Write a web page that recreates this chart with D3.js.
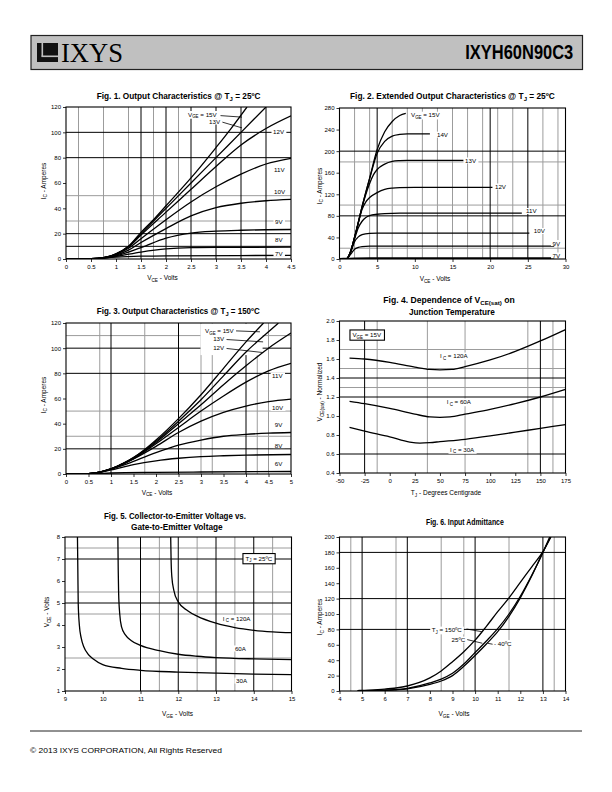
<!DOCTYPE html>
<html><head><meta charset="utf-8">
<script src="https://cdn.jsdelivr.net/npm/d3@7"></script>
<style>
body{margin:0;background:#fff}
svg{display:block}
text{font-family:"Liberation Sans",Arial,Helvetica,sans-serif;fill:#000}
</style>
</head><body>
<svg id="page" width="612" height="792"></svg>
<script>
// ---------------- DATA ----------------
// Fig 1: Output characteristics @ Tj=25C  [VCE (V), IC (A)]
const f1_15 = [[0,0],[0.5,0.2],[0.75,1],[1,4],[1.25,10],[1.5,21],[1.75,31],[2,42],[2.5,64],[3,88],[3.3,103],[3.62,120]];
const f1_13 = [[0,0],[0.5,0.2],[0.75,1],[1,4],[1.25,10],[1.5,20],[1.75,30],[2,40],[2.5,60],[3,80],[3.5,100],[4,120]];
const f1_12 = [[0,0],[0.5,0.2],[0.75,1],[1,3.8],[1.25,9.5],[1.5,19],[2,37],[2.5,55],[3,73],[3.5,90],[4,103],[4.5,113]];
const f1_11 = [[0,0],[0.5,0.2],[0.75,1],[1,3.5],[1.25,8.5],[1.5,16],[2,31],[2.5,45],[3,57],[3.5,67],[4,75],[4.5,79.5]];
const f1_10 = [[0,0],[0.5,0.2],[0.75,0.9],[1,3],[1.25,7],[1.5,13],[2,24],[2.5,34],[3,40.5],[3.5,44],[4,46],[4.5,47]];
const f1_9  = [[0,0],[0.5,0.2],[0.75,0.8],[1,2.5],[1.5,9],[2,16.5],[2.5,20.5],[3,22],[3.5,22.7],[4,23.1],[4.5,23.3]];
const f1_8  = [[0,0],[0.5,0.2],[0.75,0.7],[1,2],[1.5,5.5],[2,8],[2.5,9],[3,9.2],[4.5,9.3]];
const f1_7  = [[0,0],[0.5,0.2],[1,1.5],[1.5,2.2],[2,2.5],[4.5,2.8]];
const f1_xTicks = [0,0.5,1,1.5,2,2.5,3,3.5,4,4.5];
const f1_yTicks = [0,20,40,60,80,100,120];

// Fig 2: Extended output characteristics @ 25C
const f2_15 = [[0,0],[0.8,0.3],[1,1],[1.5,15],[2,40],[2.5,68],[3,97],[4,150],[5,203],[6,236],[7,255],[8,266],[8.8,270]];
const f2_14 = [[0,0],[0.8,0.3],[1,1],[1.5,15],[2,40],[2.5,68],[3,97],[4,149],[5,196],[6,218],[7,228],[8,231],[9,232],[12,232]];
const f2_13 = [[0,0],[0.8,0.3],[1,1],[1.5,15],[2,40],[2.5,68],[3,96],[4,140],[4.5,156],[5,166],[6,176],[7,181],[8,182.5],[9,183],[16.5,183]];
const f2_12 = [[0,0],[0.8,0.3],[1,1],[1.5,15],[2,40],[2.5,67],[3,92],[3.5,106],[4,114],[5,123],[6,129],[7,131.5],[8,132.5],[10,133],[20.3,133]];
const f2_11 = [[0,0],[0.8,0.3],[1,1],[1.5,14],[2,37],[2.5,58],[3,70],[3.5,77],[4,80.5],[5,83],[6,84.3],[8,85],[24.2,85]];
const f2_10 = [[0,0],[0.8,0.3],[1,1],[1.5,13],[2,32],[2.5,41],[3,45],[4,47.5],[5,48],[25.2,48]];
const f2_9  = [[0,0],[0.8,0.3],[1,0.8],[1.5,9],[2,18],[2.5,21.5],[3,23],[4,24],[28.5,24]];
const f2_7  = [[0,0],[1,0.5],[2,1],[4,1.2],[28.5,1.2]];
const f2_xTicks = [0,5,10,15,20,25,30];
const f2_yTicks = [0,40,80,120,160,200,240,280];

// Fig 3: Output characteristics @ Tj=150C
const f3_15 = [[0,0],[0.5,0.3],[0.75,1.5],[1,4],[1.25,8],[1.5,13],[1.75,19.5],[2,27],[2.5,44],[3,63],[3.5,84],[4,105],[4.39,120]];
const f3_13 = [[0,0],[0.5,0.3],[0.75,1.5],[1,4],[1.25,8],[1.5,13],[1.75,19],[2,26],[2.5,42],[3,59],[3.5,78],[4,97],[4.5,113],[4.72,120]];
const f3_12 = [[0,0],[0.5,0.3],[0.75,1.5],[1,4],[1.25,8],[1.5,12.5],[1.75,18.5],[2,25],[2.5,40],[3,55],[3.5,71],[4,86],[4.5,100],[5,112]];
const f3_11 = [[0,0],[0.5,0.3],[0.75,1.5],[1,4],[1.5,12],[2,24],[2.5,37],[3,50],[3.5,62],[4,73],[4.5,82],[5,88]];
const f3_10 = [[0,0],[0.5,0.3],[0.75,1.5],[1,4],[1.5,12],[2,22],[2.5,33],[3,42],[3.5,49],[4,54],[4.5,57.5],[5,59.5]];
const f3_9  = [[0,0],[0.5,0.3],[0.75,1.5],[1,3.8],[1.5,10],[2,17],[2.5,23],[3,27],[3.5,30],[4,31.5],[4.5,32.5],[5,33]];
const f3_8  = [[0,0],[0.5,0.3],[0.75,1.3],[1,3.2],[1.5,7.5],[2,10.5],[2.5,12.5],[3,13.8],[3.5,14.5],[4,15],[5,15.5]];
const f3_6  = [[0,0],[0.5,0.2],[1,0.8],[2,1.3],[3,1.6],[5,2]];
const f3_xTicks = [0,0.5,1,1.5,2,2.5,3,3.5,4,4.5,5];
const f3_yTicks = [0,20,40,60,80,100,120];

// Fig 4: VCE(sat) normalized vs Tj
const f4_120 = [[-40,1.61],[-25,1.6],[0,1.565],[25,1.515],[40,1.49],[50,1.485],[62,1.49],[75,1.52],[100,1.59],[125,1.68],[150,1.79],[175,1.91]];
const f4_60  = [[-40,1.155],[-25,1.13],[0,1.08],[25,1.02],[40,0.99],[50,0.985],[60,0.99],[75,1.02],[100,1.07],[125,1.13],[150,1.2],[175,1.28]];
const f4_30  = [[-40,0.88],[-25,0.84],[0,0.78],[20,0.725],[30,0.715],[40,0.72],[50,0.73],[75,0.755],[100,0.79],[125,0.83],[150,0.87],[175,0.91]];
const f4_xTicks = [-50,-25,0,25,50,75,100,125,150,175];
const f4_yTicks = [0.4,0.6,0.8,1.0,1.2,1.4,1.6,1.8,2.0];

// Fig 5: VCE vs VGE @ 25C
const f5_30  = [[9.33,8],[9.34,6.5],[9.35,5],[9.38,4],[9.43,3.4],[9.5,3],[9.6,2.7],[9.75,2.45],[10,2.2],[10.5,2.03],[11,1.94],[12,1.86],[13,1.81],[14,1.77],[15,1.74]];
const f5_60  = [[10.4,8],[10.41,6.5],[10.42,5.5],[10.45,4.5],[10.5,3.9],[10.6,3.55],[10.75,3.3],[11,3.07],[11.5,2.83],[12,2.67],[12.5,2.58],[13,2.52],[14,2.46],[15,2.43]];
const f5_120 = [[11.8,8],[11.81,7],[11.83,6.2],[11.88,5.6],[12,5.05],[12.25,4.65],[12.5,4.4],[13,4.08],[13.5,3.88],[14,3.76],[14.5,3.69],[15,3.65]];
const f5_xTicks = [9,10,11,12,13,14,15];
const f5_yTicks = [1,2,3,4,5,6,7,8];

// Fig 6: Input admittance
const f6_150 = [[4.8,0.5],[5,0.8],[6,2.5],[7,6.5],[8,17],[8.5,26],[9,38],[9.5,51],[10,66],[10.5,84],[11,103],[11.5,121],[12,141],[12.5,161],[13,181],[13.35,200]];
const f6_25  = [[4.8,0.3],[5,0.4],[6,1.2],[7,3.5],[8,10.5],[8.5,15.5],[9,23],[9.5,35],[10,50],[10.5,65],[11,81],[11.5,100],[12,123],[12.5,150],[13,180],[13.3,200]];
const f6_m40 = [[5,0.2],[6,0.8],[7,2.8],[8,8.5],[8.5,13],[9,20],[9.5,32],[10,46],[10.5,61],[11,77],[11.5,97],[12,121],[12.5,149],[13,180],[13.35,200]];
const f6_xTicks = [4,5,6,7,8,9,10,11,12,13,14];
const f6_yTicks = [0,20,40,60,80,100,120,140,160,180,200];

// Gridlines (grey / black) per figure
const f1_gridGreyX = [0.25,0.75,1.25,1.75,2.25], f1_gridBlackX = [1.5,2,2.5,3,3.5,4];
const f1_gridGreyY = [30,50], f1_gridBlackY = [10,20,80,100];
const f2_gridGreyX = [2,4,7,9,11,13,15,17,19,21,23,27,29], f2_gridBlackX = [5,20,25];
const f2_gridGreyY = [20,100,180], f2_gridBlackY = [80,200];
const f3_gridGreyX = [0.75,1.75,3,3.25,4.25,4.5], f3_gridBlackX = [1,2.5,4];
const f3_gridGreyY = [30,50,110], f3_gridBlackY = [20,80,100];
const f4_gridGreyX = [-12.5,37.5,75,137.5,162.5], f4_gridBlackX = [-25,150];
const f4_gridGreyY = [1.3,1.5,1.7], f4_gridBlackY = [0.6,1.2,1.4];
const f5_gridGreyX = [11.5,12.5,13.5,14.5], f5_gridBlackX = [11,12,13,14];
const f5_gridGreyY = [2.5,4.5,5.5,7.5], f5_gridBlackY = [5,7];
const f6_gridGreyX = [4.5,6.5,8.5,9.5,11.5,13.5], f6_gridBlackX = [5,7,10,13];
const f6_gridGreyY = [], f6_gridBlackY = [80,120,180];

// ---------------- DRAWING ----------------
const svg = d3.select('#page');
const defs = svg.append('defs');

function rich(t, parts, fs){
  let shift = 0; const sd = fs*0.28;
  parts.forEach(p=>{
    const ts = t.append('tspan');
    if(Array.isArray(p)){ ts.attr('font-size', fs*0.72).attr('dy', sd - shift).text(p[0]); shift = sd; }
    else { ts.attr('dy', -shift).text(p); shift = 0; }
  });
  return t;
}
// condensed text: draw at natural width, then scale horizontally to target width
function condensed(parent, cx, y, w, parts, fs, weight){
  const t = parent.append('text').attr('font-size', fs).attr('font-weight', weight || 'bold');
  rich(t, parts, fs);
  const w0 = t.node().getBBox().width;
  const s = Math.min(1, w / w0);
  t.attr('transform', `translate(${cx - w0*s/2},${y}) scale(${s},1)`);
  return t;
}

function chart(cfg){
  const g = svg.append('g');
  const x = d3.scaleLinear().domain(cfg.xd).range([cfg.l, cfg.r]);
  const y = d3.scaleLinear().domain(cfg.yd).range([cfg.b, cfg.t]);
  const grid = g.append('g');
  const vline = (arr, col, sw) => grid.append('g').selectAll('line').data(arr).join('line')
     .attr('x1', d=>x(d)).attr('x2', d=>x(d)).attr('y1', cfg.t).attr('y2', cfg.b)
     .attr('stroke', col).attr('stroke-width', sw);
  const hline = (arr, col, sw) => grid.append('g').selectAll('line').data(arr).join('line')
     .attr('y1', d=>y(d)).attr('y2', d=>y(d)).attr('x1', cfg.l).attr('x2', cfg.r)
     .attr('stroke', col).attr('stroke-width', sw);
  vline(cfg.gx, '#9c9c9c', 1); hline(cfg.gy, '#9c9c9c', 1);
  vline(cfg.bx, '#000', 1); hline(cfg.by, '#000', 1);
  const id = 'clip' + cfg.id;
  defs.append('clipPath').attr('id', id).append('rect')
     .attr('x', cfg.l).attr('y', cfg.t).attr('width', cfg.r-cfg.l).attr('height', cfg.b-cfg.t);
  const over = g.append('g');
  const curves = g.append('g').attr('clip-path', `url(#${id})`);
  const ann = g.append('g');
  g.append('rect').attr('x', cfg.l).attr('y', cfg.t).attr('width', cfg.r-cfg.l).attr('height', cfg.b-cfg.t)
    .attr('fill','none').attr('stroke','#000').attr('stroke-width',1.1);
  const ax = g.append('g').attr('transform', `translate(0,${cfg.b})`)
    .call(d3.axisBottom(x).tickValues(cfg.xt).tickSize(3).tickPadding(3).tickFormat(cfg.xf || (d=>String(d))));
  const ay = g.append('g').attr('transform', `translate(${cfg.l},0)`)
    .call(d3.axisLeft(y).tickValues(cfg.yt).tickSize(3).tickPadding(2).tickFormat(cfg.yf || (d=>String(d))));
  [ax, ay].forEach(a=>{
    a.select('.domain').remove();
    a.attr('font-size', null).attr('font-family', null);
    a.selectAll('text').attr('font-size', 6).attr('fill','#000');
    a.selectAll('line').attr('stroke','#000').attr('stroke-width',0.8);
  });
  rich(g.append('text').attr('x', cfg.xl[0]).attr('y', cfg.xl[1]).attr('text-anchor','middle').attr('font-size',6.5), cfg.xlab, 6.5);
  rich(g.append('text').attr('transform', `translate(${cfg.yl[0]},${cfg.yl[1]}) rotate(-90)`).attr('text-anchor','middle').attr('font-size',6.5), cfg.ylab, 6.5);
  cfg.title.forEach(tl => condensed(g, tl.cx, tl.y, tl.w, tl.parts, 8.6));
  return {g, x, y, curves, ann, over, cfg};
}

const line = (c) => d3.line().x(d=>c.x(d[0])).y(d=>c.y(d[1])).curve(d3.curveMonotoneX);
function draw(c, series, sw){
  c.curves.selectAll(null).data(series).join('path')
    .attr('d', d=>line(c)(d)).attr('fill','none').attr('stroke','#000')
    .attr('stroke-width', sw || 1.3).attr('stroke-linejoin','round');
}
function lab(c, xv, yv, parts, opt){
  opt = opt || {};
  const fs = opt.fs || 6.2;
  const t = c.ann.append('text').attr('x', c.x(xv)).attr('y', c.y(yv)).attr('font-size', fs);
  rich(t, parts, fs);
  const b = t.node().getBBox();
  if(opt.box){
    c.ann.insert('rect', ()=>t.node()).attr('x', b.x-2.5).attr('y', b.y-1).attr('width', b.width+5).attr('height', b.height+1.5)
      .attr('fill','#fff').attr('stroke','#000').attr('stroke-width',1.1);
  } else if(opt.bg !== false){
    c.ann.insert('rect', ()=>t.node()).attr('x', b.x-1.5).attr('y', b.y+0.5).attr('width', b.width+3).attr('height', b.height-1)
      .attr('fill','#fff');
  }
}
function leader(c, a, b){
  c.ann.append('line').attr('x1', c.x(a[0])).attr('y1', c.y(a[1])).attr('x2', c.x(b[0])).attr('y2', c.y(b[1]))
    .attr('stroke','#000').attr('stroke-width',0.8);
}

const VCE = ['V',['CE'],' - Volts'];
const VGE = ['V',['GE'],' - Volts'];
const ICA = ['I',['C'],' - Amperes'];

// ---- Header ----
svg.append('rect').attr('x',31).attr('y',35.5).attr('width',551.5).attr('height',34)
  .attr('fill','#c0c0c0').attr('stroke','#222').attr('stroke-width',1.2);
svg.append('rect').attr('x',37).attr('y',43).attr('width',21).attr('height',19).attr('fill','#111');
svg.append('rect').attr('x',41.5).attr('y',43).attr('width',1.6).attr('height',13.5).attr('fill','#c0c0c0');
svg.append('rect').attr('x',41.5).attr('y',55.5).attr('width',16.5).attr('height',1.6).attr('fill','#c0c0c0');
svg.append('text').attr('x',61).attr('y',61.5).attr('font-size',27)
  .style('font-family','"Liberation Serif","Times New Roman",serif').attr('fill','#111')
  .attr('textLength',62).attr('lengthAdjust','spacingAndGlyphs').text('IXYS');
condensed(svg, 519.3, 58.5, 108, ['IXYH60N90C3'], 20.5);

// ---- Fig 1 ----
const c1 = chart({id:1, l:66, r:291, t:107, b:259, xd:[0,4.5], yd:[0,120], xt:f1_xTicks, yt:f1_yTicks,
  gx:f1_gridGreyX, bx:f1_gridBlackX, gy:f1_gridGreyY, by:f1_gridBlackY,
  xl:[162.5,280], yl:[45.5,181], xlab:VCE, ylab:ICA,
  title:[{cx:178.7, y:99, w:164, parts:['Fig. 1. Output Characteristics @ T',['J'],' = 25ºC']}]});
draw(c1, [f1_15,f1_13,f1_12,f1_11,f1_10,f1_9,f1_8,f1_7]);
leader(c1,[3.09,113.2],[3.52,112]); leader(c1,[3.08,108.6],[3.52,103.5]);
lab(c1,2.44,112.5,['V',['GE'],' = 15V']);
lab(c1,2.86,106.6,['13V']);
lab(c1,4.14,98.3,['12V']); lab(c1,4.16,69,['11V']); lab(c1,4.16,51.7,['10V']);
lab(c1,4.18,28,['9V']); lab(c1,4.18,13.4,['8V']); lab(c1,4.18,2.4,['7V']);

// ---- Fig 2 ----
const c2 = chart({id:2, l:339.5, r:565.5, t:108, b:259, xd:[0,30], yd:[0,280], xt:f2_xTicks, yt:f2_yTicks,
  gx:f2_gridGreyX, bx:f2_gridBlackX, gy:f2_gridGreyY, by:f2_gridBlackY,
  xl:[435,281], yl:[321.5,186], xlab:VCE, ylab:ICA,
  title:[{cx:452.5, y:99, w:205, parts:['Fig. 2. Extended Output Characteristics @ T',['J'],' = 25ºC']}]});
draw(c2, [f2_15,f2_14,f2_13,f2_12,f2_11,f2_10,f2_9]);
draw(c2, [f2_7], 2);
lab(c2,9.49,263,['V',['GE'],' = 15V']); lab(c2,12.94,226,['14V']); lab(c2,16.66,178,['13V']);
lab(c2,20.64,129.8,['12V']); lab(c2,24.76,84.4,['11V']); lab(c2,25.8,47.3,['10V']);
lab(c2,28.28,25,['9V']); lab(c2,28.28,1.9,['7V']);

// ---- Fig 3 ----
const c3 = chart({id:3, l:66, r:291, t:323, b:474, xd:[0,5], yd:[0,120], xt:f3_xTicks, yt:f3_yTicks,
  gx:f3_gridGreyX, bx:f3_gridBlackX, gy:f3_gridGreyY, by:f3_gridBlackY,
  xl:[157,494.5], yl:[45.5,395], xlab:VCE, ylab:ICA,
  title:[{cx:178.3, y:314, w:163, parts:['Fig. 3. Output Characteristics @ T',['J'],' = 150ºC']}]});
c3.over.append('rect').attr('x', c3.x(3.0)-0.5).attr('y', c3.y(119.5)).attr('width', c3.x(4.38)-c3.x(3.0))
  .attr('height', c3.y(94.5)-c3.y(119.5)).attr('fill','#fff');
draw(c3, [f3_15,f3_13,f3_12,f3_11,f3_10,f3_9,f3_8,f3_6]);
leader(c3,[3.73,113.8],[4.31,113]); leader(c3,[3.51,107],[4.38,105]); leader(c3,[3.51,100],[4.38,96.5]);
lab(c3,3.09,112.1,['V',['GE'],' = 15V']); lab(c3,3.27,105.3,['13V']); lab(c3,3.27,98.5,['12V']);
lab(c3,4.58,76.3,['11V']); lab(c3,4.58,50.5,['10V']); lab(c3,4.64,37.4,['9V']);
lab(c3,4.64,21,['8V']); lab(c3,4.64,6,['6V']);

// ---- Fig 4 ----
const c4 = chart({id:4, l:339.5, r:565.5, t:321, b:473, xd:[-50,175], yd:[0.4,2.0], xt:f4_xTicks, yt:f4_yTicks,
  yf:d3.format('.1f'),
  gx:f4_gridGreyX, bx:f4_gridBlackX, gy:f4_gridGreyY, by:f4_gridBlackY,
  xl:[446,495], yl:[322,392], xlab:['T',['J'],' - Degrees Centigrade'], ylab:['V',['CE(sat)'],' - Normalized'],
  title:[{cx:449, y:303, w:136, parts:['Fig. 4. Dependence of V',['CE(sat)'],' on']},
         {cx:452, y:315, w:86, parts:['Junction Temperature']}]});
draw(c4, [f4_120,f4_60,f4_30]);
lab(c4,50,1.61,['I',[' C'],' = 120A']); lab(c4,56.7,1.126,['I',[' C'],' = 60A']); lab(c4,60,0.626,['I',[' C'],' = 30A']);
lab(c4,-37.1,1.832,['V',['GE'],' = 15V'],{box:true});

// ---- Fig 5 ----
const c5 = chart({id:5, l:65, r:291.5, t:537, b:691, xd:[9,15], yd:[1,8], xt:f5_xTicks, yt:f5_yTicks,
  gx:f5_gridGreyX, bx:f5_gridBlackX, gy:f5_gridGreyY, by:f5_gridBlackY,
  xl:[177.5,716], yl:[49,612], xlab:VGE, ylab:['V',['CE'],' - Volts'],
  title:[{cx:175, y:518.5, w:142, parts:['Fig. 5. Collector-to-Emitter Voltage vs.']},
         {cx:177, y:530, w:92, parts:['Gate-to-Emitter Voltage']}]});
draw(c5, [f5_30,f5_60,f5_120]);
lab(c5,13.18,4.2,['I',[' C'],' = 120A']); lab(c5,13.5,2.82,['60A']); lab(c5,13.53,1.36,['30A']);
lab(c5,13.78,6.93,['T',['J'],' = 25ºC'],{box:true});

// ---- Fig 6 ----
const c6 = chart({id:6, l:339.5, r:565.5, t:537, b:691, xd:[4,14], yd:[0,200], xt:f6_xTicks, yt:f6_yTicks,
  gx:f6_gridGreyX, bx:f6_gridBlackX, gy:f6_gridGreyY, by:f6_gridBlackY,
  xl:[454,716], yl:[322,617], xlab:VGE, ylab:ICA,
  title:[{cx:465, y:525, w:78, parts:['Fig. 6. Input Admittance']}]});
draw(c6, [f6_150,f6_25,f6_m40]);
leader(c6,[9.62,80.5],[10.3,77]); leader(c6,[9.62,67],[10.32,62]); leader(c6,[10.55,62],[10.82,60.5]);
lab(c6,8.08,76.5,['T',['J'],' = 150ºC']); lab(c6,8.96,63.5,['25ºC']); lab(c6,10.84,59,['- 40ºC']);

// ---- Footer ----
svg.append('line').attr('x1',30).attr('x2',582).attr('y1',731).attr('y2',731).attr('stroke','#222').attr('stroke-width',1);
svg.append('text').attr('x',30).attr('y',753).attr('font-size',8).attr('textLength',192).attr('lengthAdjust','spacingAndGlyphs')
  .text('© 2013 IXYS CORPORATION, All Rights Reserved');
</script>
</body></html>
